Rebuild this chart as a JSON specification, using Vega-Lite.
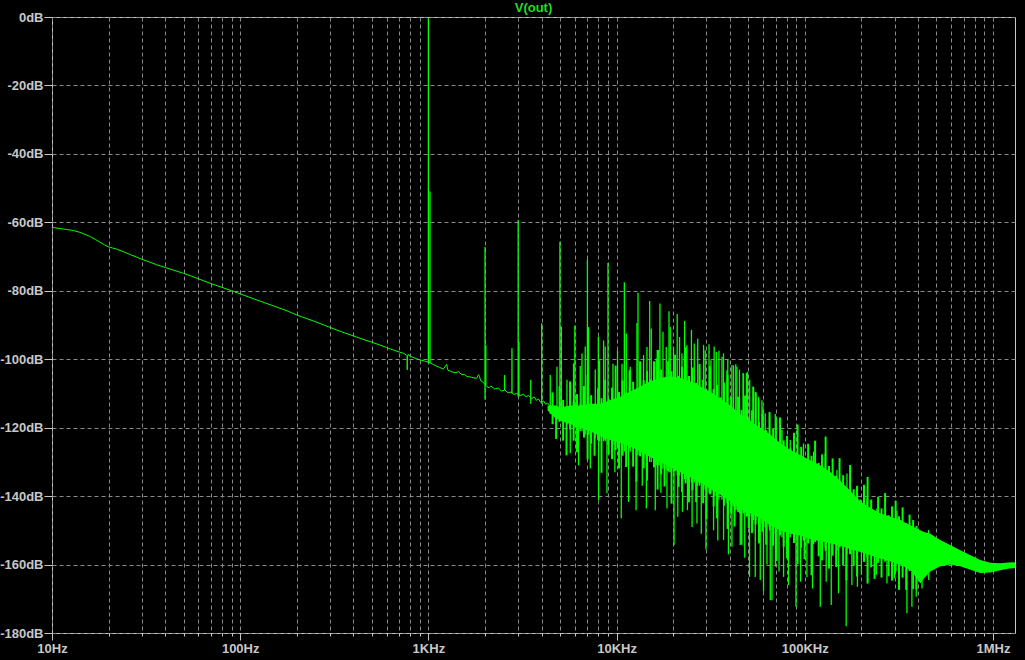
{
  "$schema": "https://vega.github.io/schema/vega-lite/v6.json",
  "width": 963,
  "height": 616,
  "autosize": {"type": "none"},
  "padding": {"left": 52, "top": 17, "right": 10, "bottom": 27},
  "background": "#000000",
  "title": {"text": "V(out)", "color": "#22dd22", "font": "Liberation Sans", "fontSize": 13, "fontWeight": "bold", "anchor": "middle", "baseline": "alphabetic", "offset": -14},
  "config": {
    "view": {"stroke": "#c8c8c8", "strokeWidth": 1, "fill": "#000000"},
    "axis": {"labelFont": "Liberation Sans", "labelFontSize": 13, "labelFontWeight": "bold", "labelColor": "#c8c8c8", "tickColor": "#c8c8c8", "gridColor": "#8a8a8a", "gridDash": [4, 3], "gridWidth": 1, "domain": false, "title": null}
  },
  "datasets": {
    "trace": [
      {"f":10,"db":-61.5},{"f":11,"db":-61.8},{"f":12,"db":-62.1},{"f":13,"db":-62.4},{"f":14,"db":-62.9},{"f":15,"db":-63.5},{"f":16,"db":-64.2},{"f":17,"db":-65.0},{"f":18,"db":-65.8},{"f":19,"db":-66.6},{"f":20,"db":-67.2},{"f":21,"db":-67.5},{"f":22,"db":-67.8},{"f":24,"db":-68.6},{"f":26,"db":-69.4},{"f":28,"db":-70.1},{"f":30,"db":-70.8},{"f":33,"db":-71.6},{"f":36,"db":-72.4},{"f":40,"db":-73.2},{"f":45,"db":-74.1},{"f":50,"db":-74.9},{"f":55,"db":-75.7},{"f":60,"db":-76.5},{"f":70,"db":-77.9},{"f":80,"db":-79.0},{"f":90,"db":-80.0},{"f":100,"db":-80.9},{"f":120,"db":-82.5},{"f":150,"db":-84.4},{"f":180,"db":-86.0},{"f":200,"db":-87.1},{"f":250,"db":-89.0},{"f":300,"db":-90.7},{"f":350,"db":-92.1},{"f":400,"db":-93.2},{"f":450,"db":-94.2},{"f":500,"db":-95.0},{"f":550,"db":-95.8},{"f":600,"db":-96.6},{"f":650,"db":-97.3},{"f":700,"db":-97.9},{"f":740,"db":-98.3},{"f":765,"db":-98.8},{"f":770,"db":-99.0},{"f":772,"db":-103.1},{"f":775,"db":-99.1},{"f":780,"db":-98.6},{"f":800,"db":-99.1},{"f":850,"db":-99.7},{"f":900,"db":-100.2},{"f":950,"db":-100.5},{"f":990,"db":-100.8},{"f":1050,"db":-101.4},{"f":1100,"db":-102.0},{"f":1150,"db":-102.4},{"f":1200,"db":-102.9},{"f":1250,"db":-101.5},{"f":1270,"db":-103.2},{"f":1300,"db":-103.4},{"f":1350,"db":-103.8},{"f":1400,"db":-103.9},{"f":1450,"db":-103.6},{"f":1500,"db":-104.5},{"f":1550,"db":-104.4},{"f":1600,"db":-105.0},{"f":1700,"db":-105.3},{"f":1800,"db":-105.6},{"f":1850,"db":-104.5},{"f":1900,"db":-106.3},{"f":1960,"db":-106.8},{"f":2040,"db":-108.0},{"f":2100,"db":-108.3},{"f":2150,"db":-107.8},{"f":2250,"db":-108.7},{"f":2350,"db":-108.4},{"f":2450,"db":-109.3},{"f":2550,"db":-109.0},{"f":2650,"db":-109.8},{"f":2750,"db":-109.6},{"f":2850,"db":-110.3},{"f":2950,"db":-110.0},{"f":3100,"db":-110.6},{"f":3200,"db":-110.2},{"f":3300,"db":-111.0},{"f":3400,"db":-110.6},{"f":3550,"db":-111.5},{"f":3650,"db":-111.0},{"f":3750,"db":-112.0},{"f":3850,"db":-111.6},{"f":3950,"db":-112.6},{"f":4100,"db":-112.2},{"f":4200,"db":-113.2},{"f":4300,"db":-112.8},{"f":4450,"db":-113.8}
    ],
    "band": [
      {"f":4300,"db":-113.5,"db2":-115},{"f":4700,"db":-113.5,"db2":-117},{"f":5023,"db":-114,"db2":-118},{"f":5700,"db":-113.5,"db2":-119},{"f":6414,"db":-113.5,"db2":-120},{"f":7200,"db":-113,"db2":-121},{"f":8193,"db":-113,"db2":-122.5},{"f":9200,"db":-112,"db2":-123.5},{"f":10465,"db":-111,"db2":-124.5},{"f":11800,"db":-109.5,"db2":-125.5},{"f":13366,"db":-108,"db2":-127},{"f":15000,"db":-106.5,"db2":-128.5},{"f":17070,"db":-105.5,"db2":-130},{"f":19300,"db":-105,"db2":-131.5},{"f":21803,"db":-105.5,"db2":-133},{"f":24600,"db":-106.5,"db2":-134.5},{"f":27850,"db":-108,"db2":-136},{"f":31500,"db":-109.5,"db2":-138},{"f":35563,"db":-111.5,"db2":-139.5},{"f":40200,"db":-113.5,"db2":-141.5},{"f":45425,"db":-116,"db2":-143.5},{"f":51300,"db":-118,"db2":-145},{"f":58020,"db":-120,"db2":-146.5},{"f":65600,"db":-122,"db2":-148.5},{"f":74090,"db":-124.5,"db2":-150},{"f":84000,"db":-126.5,"db2":-151},{"f":94650,"db":-128,"db2":-151.5},{"f":107000,"db":-129.5,"db2":-152.5},{"f":120900,"db":-131,"db2":-153.2},{"f":137000,"db":-133,"db2":-153.8},{"f":154400,"db":-135.5,"db2":-154.5},{"f":175000,"db":-138.5,"db2":-155.5},{"f":197200,"db":-141.5,"db2":-156.3},{"f":224000,"db":-143.5,"db2":-157.3},{"f":251900,"db":-145,"db2":-158.2},{"f":285000,"db":-146,"db2":-159},{"f":321700,"db":-147,"db2":-160},{"f":363000,"db":-148.5,"db2":-161.5},{"f":395000,"db":-149.5,"db2":-164},{"f":410900,"db":-150,"db2":-165.5},{"f":430000,"db":-150.5,"db2":-164},{"f":465000,"db":-151,"db2":-162},{"f":524800,"db":-152.8,"db2":-160.5},{"f":593000,"db":-154.3,"db2":-160},{"f":670200,"db":-155.8,"db2":-160.5},{"f":760000,"db":-157.3,"db2":-161.5},{"f":856000,"db":-158.7,"db2":-162.5},{"f":970000,"db":-159.5,"db2":-162.3},{"f":1093000,"db":-159.6,"db2":-161.7},{"f":1200000,"db":-159.4,"db2":-161.2},{"f":1310000,"db":-159.3,"db2":-161}
    ],
    "spikes": [
      {"f":1000,"db":-0.4,"db2":-101},{"f":1020,"db":-51,"db2":-101.2},{"f":2000,"db":-67.2,"db2":-111.8},{"f":2020,"db":-96,"db2":-107.5},{"f":2541,"db":-104.6,"db2":-109},{"f":2781,"db":-96.8,"db2":-110},{"f":3000,"db":-59.3,"db2":-111},{"f":3030,"db":-95,"db2":-111},{"f":3500,"db":-106,"db2":-113},{"f":4000,"db":-89.5,"db2":-113},{"f":4443,"db":-104.6,"db2":-116},{"f":4824,"db":-102.2,"db2":-117},{"f":5000,"db":-65.7,"db2":-118},{"f":5090,"db":-90.5,"db2":-118},{"f":5450,"db":-106,"db2":-119},{"f":5907,"db":-101.2,"db2":-120},{"f":6000,"db":-90.2,"db2":-120},{"f":6413,"db":-102,"db2":-121},{"f":6549,"db":-98.3,"db2":-121},{"f":6818,"db":-96.3,"db2":-122},{"f":7000,"db":-70.8,"db2":-122},{"f":7100,"db":-90.6,"db2":-122},{"f":7705,"db":-103,"db2":-123},{"f":8000,"db":-93.4,"db2":-123},{"f":8122,"db":-100.3,"db2":-124},{"f":8531,"db":-94.5,"db2":-124},{"f":8708,"db":-96.3,"db2":-124},{"f":9000,"db":-71.9,"db2":-125},{"f":9570,"db":-101.3,"db2":-125},{"f":10120,"db":-97.4,"db2":-126},{"f":10690,"db":-101.3,"db2":-126},{"f":11000,"db":-77.5,"db2":-127},{"f":11260,"db":-92.5,"db2":-127},{"f":11826,"db":-102.2,"db2":-127},{"f":12835,"db":-89.4,"db2":-128},{"f":13000,"db":-80.6,"db2":-128},{"f":13365,"db":-101.3,"db2":-128},{"f":13917,"db":-98.8,"db2":-129},{"f":14507,"db":-96.4,"db2":-129},{"f":15000,"db":-83,"db2":-130},{"f":15292,"db":-91,"db2":-130},{"f":16253,"db":-99.8,"db2":-131},{"f":16720,"db":-97.3,"db2":-131},{"f":17000,"db":-83.7,"db2":-131},{"f":17645,"db":-92,"db2":-132},{"f":18370,"db":-96.4,"db2":-132},{"f":19000,"db":-86,"db2":-133},{"f":19290,"db":-90.6,"db2":-133},{"f":20090,"db":-96.4,"db2":-133},{"f":21000,"db":-86.8,"db2":-134},{"f":21610,"db":-93.5,"db2":-134},{"f":22260,"db":-98.3,"db2":-134},{"f":23000,"db":-88.8,"db2":-135},{"f":23660,"db":-95.9,"db2":-135},{"f":25000,"db":-91.4,"db2":-136},{"f":25880,"db":-95.4,"db2":-136},{"f":27000,"db":-94,"db2":-137},{"f":27610,"db":-102.7,"db2":-137},{"f":29000,"db":-95.8,"db2":-138},{"f":29600,"db":-97.4,"db2":-138},{"f":31000,"db":-95.6,"db2":-139},{"f":31740,"db":-100.3,"db2":-139},{"f":33000,"db":-96.3,"db2":-140},{"f":33870,"db":-97.9,"db2":-140},{"f":35000,"db":-97.5,"db2":-141},{"f":36310,"db":-99.3,"db2":-141},{"f":37000,"db":-98.3,"db2":-141},{"f":38600,"db":-103.2,"db2":-142},{"f":39000,"db":-100,"db2":-142},{"f":41000,"db":-101.7,"db2":-143},{"f":41840,"db":-101.8,"db2":-143},{"f":43000,"db":-101.5,"db2":-144},{"f":43610,"db":-102.2,"db2":-144},{"f":45000,"db":-103,"db2":-145},{"f":47000,"db":-104,"db2":-145},{"f":47290,"db":-104.2,"db2":-145},{"f":49000,"db":-104,"db2":-146},{"f":49660,"db":-103.7,"db2":-146},{"f":51000,"db":-106,"db2":-146},{"f":53000,"db":-108,"db2":-147},{"f":53450,"db":-108.1,"db2":-147},{"f":55000,"db":-110,"db2":-147},{"f":56820,"db":-111,"db2":-148},{"f":57000,"db":-112,"db2":-148},{"f":59240,"db":-112,"db2":-148},{"f":59970,"db":-113.9,"db2":-149},{"f":61660,"db":-115.8,"db2":-149},{"f":65010,"db":-116.4,"db2":-150},{"f":69730,"db":-116,"db2":-151},{"f":70590,"db":-116.8,"db2":-151},{"f":75680,"db":-120.7,"db2":-152},{"f":83750,"db":-123.6,"db2":-152},{"f":98500,"db":-124.6,"db2":-153},{"f":111400,"db":-127,"db2":-154},{"f":128500,"db":-127.5,"db2":-155},{"f":148300,"db":-132.4,"db2":-156},{"f":167600,"db":-133.4,"db2":-157},{"f":189400,"db":-137.8,"db2":-158},{"f":214100,"db":-140.7,"db2":-158},{"f":241900,"db":-143.6,"db2":-159},{"f":309000,"db":-144.3,"db2":-160},{"f":454800,"db":-149.9,"db2":-160},
      {"f":5675,"db":-118,"db2":-127.5},{"f":6283,"db":-119,"db2":-131},{"f":7251,"db":-120,"db2":-131.9},{"f":8025,"db":-121,"db2":-141.2},{"f":8890,"db":-122,"db2":-139.2},{"f":9800,"db":-123,"db2":-133},{"f":10593,"db":-124,"db2":-146.5},{"f":11580,"db":-125,"db2":-141.7},{"f":12700,"db":-126,"db2":-144.1},{"f":13700,"db":-127,"db2":-137},{"f":14400,"db":-127,"db2":-143.6},{"f":16060,"db":-129,"db2":-144.1},{"f":17200,"db":-129,"db2":-139},{"f":18530,"db":-130,"db2":-143.6},{"f":20200,"db":-131,"db2":-154.3},{"f":21150,"db":-132,"db2":-146},{"f":22400,"db":-132,"db2":-144.6},{"f":23800,"db":-133,"db2":-144.1},{"f":25200,"db":-134,"db2":-149},{"f":26740,"db":-135,"db2":-148},{"f":28200,"db":-135,"db2":-151},{"f":29850,"db":-136,"db2":-155.6},{"f":32770,"db":-138,"db2":-150},{"f":34500,"db":-138,"db2":-153},{"f":37030,"db":-139,"db2":-152.8},{"f":39300,"db":-140,"db2":-157},{"f":41030,"db":-141,"db2":-154.8},{"f":45420,"db":-143,"db2":-154.3},{"f":48000,"db":-144,"db2":-158},{"f":50900,"db":-144,"db2":-163.6},{"f":54580,"db":-145,"db2":-163.6},{"f":58020,"db":-146,"db2":-164.5},{"f":60400,"db":-146,"db2":-167.9},{"f":63000,"db":-147,"db2":-160},{"f":65570,"db":-148,"db2":-170.4},{"f":66940,"db":-148,"db2":-170.4},{"f":69900,"db":-149,"db2":-160.6},{"f":73000,"db":-149,"db2":-162},{"f":77170,"db":-150,"db2":-163.6},{"f":82000,"db":-150,"db2":-166},{"f":89830,"db":-151,"db2":-172.3},{"f":95000,"db":-151,"db2":-165},{"f":102700,"db":-152,"db2":-163.6},{"f":110000,"db":-152,"db2":-167},{"f":120900,"db":-153,"db2":-172.3},{"f":130000,"db":-153,"db2":-165},{"f":138300,"db":-153,"db2":-171.8},{"f":151200,"db":-154,"db2":-168.4},{"f":166000,"db":-155,"db2":-178},{"f":178000,"db":-155,"db2":-166},{"f":190500,"db":-156,"db2":-166.5},{"f":200000,"db":-156,"db2":-163},{"f":215500,"db":-156,"db2":-165.5},{"f":240000,"db":-157,"db2":-163},{"f":273500,"db":-158,"db2":-165.5},{"f":300000,"db":-159,"db2":-164},{"f":349100,"db":-161,"db2":-174.2},{"f":371100,"db":-162,"db2":-172.3},{"f":391200,"db":-163,"db2":-169.4},{"f":420000,"db":-162,"db2":-167},{"f":456000,"db":-160,"db2":-164.5}
    ],
    "texture": [
      {"f":4571,"db":-109.7,"db2":-119},{"f":4775,"db":-113.6,"db2":-123.3},{"f":4977,"db":-107.9,"db2":-118.3},{"f":5200,"db":-111.9,"db2":-123.8},{"f":5420,"db":-114.7,"db2":-128.1},{"f":5662,"db":-106.5,"db2":-120.5},{"f":5916,"db":-112.4,"db2":-123.8},{"f":6166,"db":-110.2,"db2":-127.2},{"f":6442,"db":-113,"db2":-119.5},{"f":6714,"db":-107.8,"db2":-122.9},{"f":7015,"db":-104.6,"db2":-129.3},{"f":7328,"db":-110.5,"db2":-124.7},{"f":7638,"db":-113.5,"db2":-128.2},{"f":7980,"db":-108.5,"db2":-123.7},{"f":8318,"db":-111.4,"db2":-133.2},{"f":8690,"db":-106,"db2":-123.5},{"f":9078,"db":-111.6,"db2":-127.9},{"f":9462,"db":-108.3,"db2":-129.2},{"f":9886,"db":-101.9,"db2":-126.6},{"f":10304,"db":-109.6,"db2":-131.9},{"f":10765,"db":-106.2,"db2":-128.2},{"f":11246,"db":-109.7,"db2":-131.5},{"f":11722,"db":-103.2,"db2":-125.9},{"f":12246,"db":-106.6,"db2":-131.4},{"f":12764,"db":-109.1,"db2":-135.8},{"f":13335,"db":-100.6,"db2":-128.4},{"f":13932,"db":-106.1,"db2":-131.9},{"f":14521,"db":-103.5,"db2":-135.5},{"f":15171,"db":-105.9,"db2":-128.1},{"f":15812,"db":-100.6,"db2":-131.6},{"f":16520,"db":-97.3,"db2":-138.1},{"f":17258,"db":-103,"db2":-133.6},{"f":17989,"db":-105.8,"db2":-137.2},{"f":18793,"db":-100.6,"db2":-132.7},{"f":19588,"db":-103.5,"db2":-142.2},{"f":20464,"db":-98.7,"db2":-132.7},{"f":21380,"db":-104.9,"db2":-137.3},{"f":22284,"db":-102.2,"db2":-138.8},{"f":23281,"db":-96.5,"db2":-136.3},{"f":24266,"db":-104.9,"db2":-141.8},{"f":25351,"db":-102.4,"db2":-138.3},{"f":26485,"db":-106.9,"db2":-141.8},{"f":27606,"db":-101.4,"db2":-136.4},{"f":28840,"db":-106,"db2":-142.1},{"f":30061,"db":-109.5,"db2":-146.8},{"f":31405,"db":-102,"db2":-139.5},{"f":32810,"db":-108.7,"db2":-143},{"f":34198,"db":-107.4,"db2":-146.5},{"f":35727,"db":-111.1,"db2":-139.1},{"f":37239,"db":-106.8,"db2":-142.8},{"f":38905,"db":-104.6,"db2":-149.6},{"f":40644,"db":-111.2,"db2":-145.2},{"f":42364,"db":-115.1,"db2":-148.9},{"f":44259,"db":-111,"db2":-144.6},{"f":46132,"db":-114.8,"db2":-154.2},{"f":48195,"db":-110.6,"db2":-144.8},{"f":50350,"db":-117.3,"db2":-149.3},{"f":52481,"db":-114.9,"db2":-150.8},{"f":54828,"db":-109.6,"db2":-148.3},{"f":57148,"db":-118.3,"db2":-153.8},{"f":59704,"db":-115.9,"db2":-150.4},{"f":62373,"db":-120.7,"db2":-154.2},{"f":65013,"db":-115.4,"db2":-148.9},{"f":67920,"db":-120.2,"db2":-154.5},{"f":70795,"db":-124.1,"db2":-159},{"f":73961,"db":-117,"db2":-151.5},{"f":77268,"db":-123.7,"db2":-154.8},{"f":80538,"db":-122.4,"db2":-158.2},{"f":84140,"db":-126,"db2":-150.5},{"f":87700,"db":-121.5,"db2":-153.7},{"f":91622,"db":-119.1,"db2":-159.9},{"f":95719,"db":-125.6,"db2":-155.1},{"f":99770,"db":-129.1,"db2":-158.4},{"f":104232,"db":-124.7,"db2":-153.8},{"f":108643,"db":-128.2,"db2":-163.1},{"f":113501,"db":-123.8,"db2":-153.4},{"f":118577,"db":-130.3,"db2":-157.6},{"f":123595,"db":-127.8,"db2":-158.8},{"f":129122,"db":-122.6,"db2":-156},{"f":134586,"db":-131.2,"db2":-161.2},{"f":140605,"db":-129,"db2":-157.4},{"f":146893,"db":-134,"db2":-160.7},{"f":153109,"db":-128.9,"db2":-155},{"f":159956,"db":-133.9,"db2":-160.3},{"f":166725,"db":-138,"db2":-164.6},{"f":174181,"db":-130.9,"db2":-157},{"f":181970,"db":-138,"db2":-160.3},{"f":189671,"db":-137,"db2":-163.5},{"f":198153,"db":-141,"db2":-155.8},{"f":206538,"db":-136.7,"db2":-159.2},{"f":215774,"db":-134.4,"db2":-165.5},{"f":225424,"db":-141,"db2":-160.8},{"f":234963,"db":-144.6,"db2":-164.2},{"f":245471,"db":-140.2,"db2":-159.5},{"f":255859,"db":-143.6,"db2":-163.8},{"f":267301,"db":-139.1,"db2":-159.1},{"f":279254,"db":-145.6,"db2":-163.4},{"f":291072,"db":-143,"db2":-164.7},{"f":304088,"db":-141.4,"db2":-162},{"f":316957,"db":-145.9,"db2":-167.4},{"f":331131,"db":-143.3,"db2":-163.8},{"f":345939,"db":-147.9,"db2":-167.4},{"f":360579,"db":-145.4,"db2":-161.9},{"f":376704,"db":-147,"db2":-167.2},{"f":392645,"db":-148.7,"db2":-167.2}
    ]
  },
  "encoding": {
    "x": {
      "field": "f", "type": "quantitative",
      "scale": {"type": "log", "domain": [10, 1310000], "nice": false},
      "axis": {
        "values": [10,20,30,40,50,60,70,80,90,100,200,300,400,500,600,700,800,900,1000,2000,3000,4000,5000,6000,7000,8000,9000,10000,20000,30000,40000,50000,60000,70000,80000,90000,100000,200000,300000,400000,500000,600000,700000,800000,900000,1000000],
        "labelExpr": "datum.value == 10 ? '10Hz' : datum.value == 100 ? '100Hz' : datum.value == 1000 ? '1KHz' : datum.value == 10000 ? '10KHz' : datum.value == 100000 ? '100KHz' : datum.value == 1000000 ? '1MHz' : ''",
        "tickSize": {"condition": {"test": "indexof([10,100,1000,10000,100000,1000000], datum.value) >= 0", "value": 7}, "value": 3},
        "labelPadding": 2,
        "labelOverlap": false,
        "labelFlush": false,
        "labelBound": false
      }
    },
    "y": {
      "field": "db", "type": "quantitative",
      "scale": {"domain": [-180, 0], "nice": false},
      "axis": {
        "values": [-180,-160,-140,-120,-100,-80,-60,-40,-20,0],
        "labelExpr": "datum.value + 'dB'",
        "tickSize": 8,
        "labelPadding": 1,
        "labelOverlap": false
      }
    }
  },
  "layer": [
    {"data": {"name": "band"}, "mark": {"type": "area", "color": "#00ff00", "opacity": 1, "clip": true}, "encoding": {"y2": {"field": "db2"}}},
    {"data": {"name": "trace"}, "mark": {"type": "line", "color": "#00ff00", "strokeWidth": 1, "clip": true}},
    {"data": {"name": "texture"}, "mark": {"type": "rule", "color": "#00ff00", "strokeWidth": 2, "clip": true}, "encoding": {"y2": {"field": "db2"}}},
    {"data": {"name": "spikes"}, "mark": {"type": "rule", "color": "#00ff00", "strokeWidth": 1.3, "clip": true}, "encoding": {"y2": {"field": "db2"}}}
  ]
}
